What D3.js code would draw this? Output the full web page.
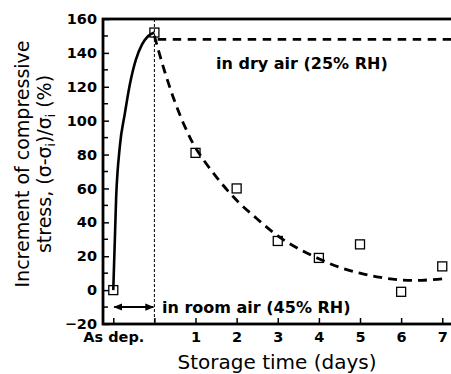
<!DOCTYPE html>
<html>
<head>
<meta charset="utf-8">
<script src="https://cdn.jsdelivr.net/npm/d3@7"></script>
<style>
body { margin: 0; background: #fff; }
svg { display: block; font-family: "DejaVu Sans", sans-serif; }
</style>
</head>
<body>
<svg width="451" height="374"></svg>
<script>
// measured points (open squares)
const days = [-1, 0, 1, 2, 3, 4, 5, 6, 7]
const stress = [0, 152, 81, 60, 29, 19, 27, -1, 14]

const xTicks = [-1, 0, 1, 2, 3, 4, 5, 6, 7]
const xTickLabels = ["As dep.", "", "1", "2", "3", "4", "5", "6", "7"]
const yTicks = [-20, 0, 20, 40, 60, 80, 100, 120, 140, 160]
const yMinorTicks = [-10, 10, 30, 50, 70, 90, 110, 130, 150]

// solid rise curve (as deposited -> start of storage)
const riseDays = [-1, -0.93, -0.84, -0.72, -0.6, -0.45, -0.3, -0.15, 0]
const riseStress = [0, 55, 85, 104, 121, 136, 145, 150, 152]

// dashed decay curve (room air)
const decayDays = [0, 0.25, 0.5, 0.75, 1, 1.5, 2, 2.5, 3, 3.5, 4, 4.5, 5, 5.5, 6, 6.5, 7]
const decayStress = [150, 129, 111, 96, 84, 67, 53, 42, 32, 24.5, 18.5, 13.5, 10, 7.5, 6, 5.8, 6.7]

// dashed level (dry air)
const dryDays = [0.08, 7.31]
const dryStress = [148, 148]

// double arrow span for "in room air"
const arrowDays = [-1, 0]
const arrowLevel = -10

const margin = {left: 103, top: 19, right: 455, bottom: 324}

const x = d3.scaleLinear().domain([-1.25, 7.31]).range([margin.left, margin.right])
const y = d3.scaleLinear().domain([-20, 160]).range([margin.bottom, margin.top])

const svg = d3.select("svg")

const defs = svg.append("defs")
defs.append("marker")
    .attr("id", "head")
    .attr("viewBox", "0 0 10 10")
    .attr("refX", 9).attr("refY", 5)
    .attr("markerWidth", 9).attr("markerHeight", 9)
    .attr("markerUnits", "userSpaceOnUse")
    .attr("orient", "auto-start-reverse")
    .append("path")
    .attr("d", "M0,1 L10,5 L0,9 Z")
    .attr("fill", "#000")

// y axis
const yAxis = d3.axisLeft(y).tickValues(yTicks).tickSize(-6).tickPadding(6)
const yG = svg.append("g")
    .attr("transform", `translate(${margin.left},0)`)
    .call(yAxis)
yG.select(".domain").remove()
yG.selectAll("line").attr("stroke", "#000").attr("stroke-width", 1.5)
yG.selectAll("text")
    .attr("font-family", "DejaVu Sans")
    .attr("font-weight", "bold")
    .attr("font-size", 14.5)
    .attr("fill", "#000")

svg.append("g")
    .selectAll("line")
    .data(yMinorTicks)
    .enter()
    .append("line")
    .attr("x1", margin.left).attr("x2", margin.left + 5)
    .attr("y1", d => y(d)).attr("y2", d => y(d))
    .attr("stroke", "#000").attr("stroke-width", 1.5)

// x axis
const xAxis = d3.axisBottom(x).tickValues(xTicks)
    .tickFormat((d, i) => xTickLabels[i]).tickSize(-6).tickPadding(8)
const xG = svg.append("g")
    .attr("transform", `translate(0,${margin.bottom})`)
    .call(xAxis)
xG.select(".domain").remove()
xG.selectAll("line").attr("stroke", "#000").attr("stroke-width", 1.5)
xG.selectAll("text")
    .attr("font-family", "DejaVu Sans")
    .attr("font-weight", "bold")
    .attr("font-size", 14.5)
    .attr("fill", "#000")

// frame
svg.append("rect")
    .attr("x", margin.left).attr("y", margin.top)
    .attr("width", margin.right - margin.left)
    .attr("height", margin.bottom - margin.top)
    .attr("fill", "none")
    .attr("stroke", "#000")
    .attr("stroke-width", 2.8)

// dotted divider at day 0
svg.append("line")
    .attr("x1", x(0)).attr("x2", x(0))
    .attr("y1", y(160)).attr("y2", y(-20))
    .attr("stroke", "#000").attr("stroke-width", 1)
    .attr("stroke-dasharray", "3,2")

const line = d3.line().x(d => x(d[0])).y(d => y(d[1]))

svg.append("path")
    .datum(d3.zip(riseDays, riseStress))
    .attr("d", line.curve(d3.curveMonotoneX))
    .attr("fill", "none").attr("stroke", "#000").attr("stroke-width", 2.6)

svg.append("path")
    .datum(d3.zip(decayDays, decayStress))
    .attr("d", line.curve(d3.curveCatmullRom))
    .attr("fill", "none").attr("stroke", "#000").attr("stroke-width", 2.8)
    .attr("stroke-dasharray", "9,6")

svg.append("path")
    .datum(d3.zip(dryDays, dryStress))
    .attr("d", line.curve(d3.curveLinear))
    .attr("fill", "none").attr("stroke", "#000").attr("stroke-width", 2.6)
    .attr("stroke-dasharray", "8.5,6.5")

// double arrow
svg.append("line")
    .attr("x1", x(arrowDays[0]) + 1).attr("x2", x(arrowDays[1]) - 1)
    .attr("y1", y(arrowLevel)).attr("y2", y(arrowLevel))
    .attr("stroke", "#000").attr("stroke-width", 2)
    .attr("marker-start", "url(#head)")
    .attr("marker-end", "url(#head)")

// points
svg.append("g")
    .selectAll("rect")
    .data(d3.zip(days, stress))
    .enter()
    .append("rect")
    .attr("x", d => x(d[0]) - 4.5)
    .attr("y", d => y(d[1]) - 4.5)
    .attr("width", 9).attr("height", 9)
    .attr("fill", "none")
    .attr("stroke", "#000").attr("stroke-width", 1.3)

// annotations
svg.append("text")
    .attr("x", 216).attr("y", 69)
    .attr("font-weight", "bold").attr("font-size", 16)
    .text("in dry air (25% RH)")

svg.append("text")
    .attr("x", 162).attr("y", 313)
    .attr("font-weight", "bold").attr("font-size", 16)
    .text("in room air (45% RH)")

// axis titles
svg.append("text")
    .attr("x", 277).attr("y", 369)
    .attr("text-anchor", "middle")
    .attr("font-size", 20)
    .text("Storage time (days)")

const yTitle = svg.append("text")
    .attr("transform", "translate(29,164) rotate(-90)")
    .attr("text-anchor", "middle")
    .attr("font-size", 19)
yTitle.append("tspan").attr("x", 0).attr("y", 0).text("Increment of compressive")
const l2 = yTitle.append("tspan").attr("x", 0).attr("y", 22)
l2.append("tspan").text("stress, (σ-σ")
l2.append("tspan").attr("font-size", 12).attr("dy", 4).text("i")
l2.append("tspan").attr("dy", -4).text(")/σ")
l2.append("tspan").attr("font-size", 12).attr("dy", 4).text("i")
l2.append("tspan").attr("dy", -4).text(" (%)")
</script>
</body>
</html>
